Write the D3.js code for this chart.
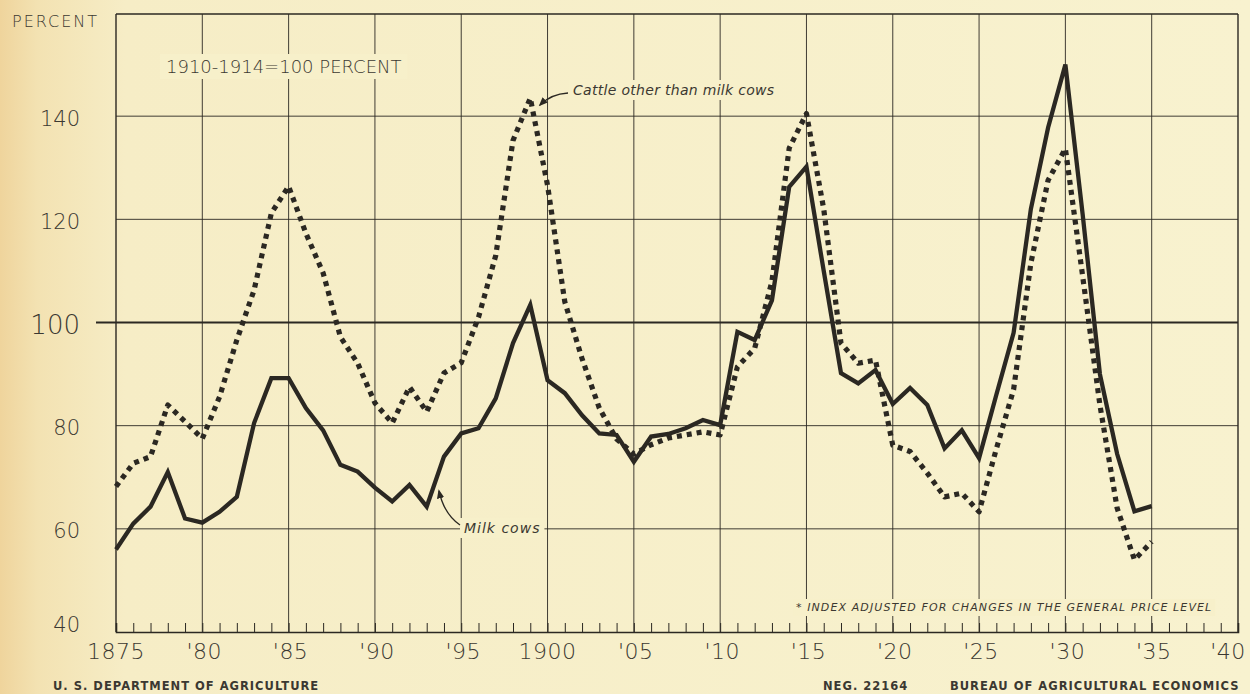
<!DOCTYPE html>
<html>
<head>
<meta charset="utf-8">
<script src="https://cdn.jsdelivr.net/npm/d3@7"></script>
<style>
  html, body { margin: 0; padding: 0; background: #f7f0ca; }
  svg { display: block; }
</style>
</head>
<body>
<div id="chart"></div>
<script>
// Index of prices received for cattle, 1910-1914 = 100
const years = d3.range(1875, 1936);

const milkCows = [
  56, 61, 64.3, 71, 62, 61.2, 63.3, 66.2, 80.5, 89.2,
  89.2, 83.4, 79.1, 72.4, 71.1, 68, 65.3, 68.5, 64.3, 74,
  78.5, 79.5, 85.3, 96, 103.4, 88.8, 86.3, 82, 78.5, 78.2,
  73, 77.9, 78.4, 79.5, 81.1, 80.1, 98.2, 96.6, 104.3, 126.3,
  130.2, 110, 90.2, 88.2, 90.8, 84.2, 87.3, 84, 75.6, 79.1,
  73.7, 86, 98, 122, 137.8, 150, 121, 90, 74.5, 63.4,
  64.4
];

const otherCattle = [
  68.2, 72.7, 74, 84, 80.8, 77.5, 85.6, 96.6, 106.3, 121.2,
  126.4, 117.3, 109.6, 97.2, 92.1, 84.4, 80.5, 87.5, 82.7, 90.2,
  92.2, 101, 113, 135.3, 143.5, 126.6, 104, 93, 83.4, 77.4,
  74.5, 76.3, 77.6, 78.2, 78.8, 78.2, 91.4, 95, 108, 133.8,
  140.5, 122, 96, 92.1, 92.7, 76.2, 75, 70.8, 66.2, 66.9,
  63.3, 75.5, 87, 111.5, 127.6, 133.7, 109, 84, 64, 54,
  57.5
];

const yTicks = [40, 60, 80, 100, 120, 140];
const xTicks = d3.range(1875, 1941, 5);
const xTickLabels = ["1875", "'80", "'85", "'90", "'95", "1900", "'05", "'10", "'15", "'20", "'25", "'30", "'35", "'40"];

const W = 1250, H = 694;
const margin = {top: 13, right: 12, bottom: 62, left: 116};
const ink = "#2b2822";
const textInk = "#3b3831";
const paper = "#f7f0ca";

const svg = d3.select("#chart").append("svg")
    .attr("width", W)
    .attr("height", H)
    .attr("viewBox", `0 0 ${W} ${H}`);

// Paper background with the warm edge on the left
const defs = svg.append("defs");
const grad = defs.append("linearGradient").attr("id", "paper")
    .attr("x1", "0%").attr("x2", "100%").attr("y1", "0%").attr("y2", "0%");
grad.append("stop").attr("offset", "0%").attr("stop-color", "#efd49c");
grad.append("stop").attr("offset", "3%").attr("stop-color", "#f3e2b2");
grad.append("stop").attr("offset", "10%").attr("stop-color", "#f6edc6");
grad.append("stop").attr("offset", "100%").attr("stop-color", "#f8f2cf");
svg.append("rect").attr("width", W).attr("height", H).attr("fill", "url(#paper)");

// Scales
const x = d3.scaleLinear().domain([1875, 1940]).range([margin.left, W - margin.right]);
const y = d3.scaleLinear().domain([40, 160]).range([H - margin.bottom, margin.top]);

const x0 = x(1875), x1 = x(1940), yTop = y(160) + 1, yBot = y(40);

const grid = svg.append("g").attr("stroke", ink).attr("fill", "none");

// Vertical grid lines every five years
grid.selectAll("line.v")
  .data(xTicks)
  .join("line")
    .attr("class", "v")
    .attr("x1", d => x(d)).attr("x2", d => x(d))
    .attr("y1", yTop).attr("y2", yBot)
    .attr("stroke-width", d => (d === 1875 || d === 1940) ? 1.4 : 0.9);

// Horizontal grid lines
grid.selectAll("line.h")
  .data(yTicks.filter(d => d !== 40 && d !== 100))
  .join("line")
    .attr("class", "h")
    .attr("x1", x0).attr("x2", x1)
    .attr("y1", d => y(d)).attr("y2", d => y(d))
    .attr("stroke-width", 0.9);

// Frame top and heavy 100 line
grid.append("line")
    .attr("x1", x0).attr("x2", x1).attr("y1", yTop).attr("y2", yTop)
    .attr("stroke-width", 1.3);
grid.append("line")
    .attr("x1", x0 - 20).attr("x2", x1).attr("y1", y(100)).attr("y2", y(100))
    .attr("stroke-width", 2.2);

// Bottom axis with yearly ticks
const xAxis = d3.axisBottom(x)
    .tickValues(d3.range(1875, 1941))
    .tickSize(-9)
    .tickFormat("");
const axisG = svg.append("g")
    .attr("transform", `translate(0,${yBot})`)
    .call(xAxis);
axisG.select(".domain").attr("stroke", ink).attr("stroke-width", 1.6);
axisG.selectAll(".tick line").attr("stroke", ink).attr("stroke-width", 1);

// X tick labels
svg.append("g").selectAll("text")
  .data(xTicks)
  .join("text")
    .attr("x", (d, i) => {
      if (d === 1940) return x(d) - 10;
      return x(d) + (i === 0 || i === 5 ? 0 : 2);
    })
    .attr("y", yBot + 27)
    .attr("text-anchor", "middle")
    .attr("font-family", "DejaVu Sans")
    .attr("font-weight", 200)
    .attr("font-size", 22)
    .attr("letter-spacing", 0.5)
    .attr("fill", textInk)
    .text((d, i) => xTickLabels[i]);

// Y tick labels
svg.append("g").selectAll("text")
  .data(yTicks)
  .join("text")
    .attr("x", 80)
    .attr("y", d => d === 40 ? y(d) - 7 : y(d) + 2)
    .attr("dy", "0.35em")
    .attr("text-anchor", "end")
    .attr("font-family", "DejaVu Sans")
    .attr("font-weight", d => d === 100 ? 300 : 200)
    .attr("font-size", d => d === 100 ? 26 : 21)
    .attr("fill", textInk)
    .text(d => d);

svg.append("text")
    .attr("x", 12).attr("y", 27)
    .attr("font-family", "DejaVu Sans")
    .attr("font-weight", 200)
    .attr("font-size", 16)
    .attr("letter-spacing", 2)
    .attr("fill", textInk)
    .text("PERCENT");

// Labels that sit on a paper patch so the grid stops around them
function patchLabel(tx, ty, str, opts, pad) {
  const t = svg.append("text")
      .attr("x", tx).attr("y", ty)
      .attr("font-family", opts.family || "DejaVu Sans")
      .attr("font-size", opts.size)
      .attr("font-weight", opts.weight || 300)
      .attr("font-style", opts.style || "normal")
      .attr("letter-spacing", opts.spacing || 0)
      .attr("fill", textInk)
      .text(str);
  const b = t.node().getBBox();
  svg.insert("rect", () => t.node())
      .attr("x", b.x - pad).attr("y", b.y - 2)
      .attr("width", b.width + 2 * pad).attr("height", b.height + 4)
      .attr("fill", paper);
  return t;
}

patchLabel(166, 73, "1910-1914=100 PERCENT", {size: 18, weight: 200, spacing: 0}, 6);
patchLabel(573, 95, "Cattle other than milk cows", {size: 14, weight: 300, style: "italic", spacing: 0.3}, 4);
patchLabel(464, 533, "Milk cows", {size: 14, weight: 300, style: "italic", spacing: 1}, 4);
patchLabel(796, 611, "* INDEX ADJUSTED FOR CHANGES IN THE GENERAL PRICE LEVEL",
  {size: 11, weight: 300, style: "italic", spacing: 1.1}, 3);

// Data lines
const line = d3.line()
    .x((d, i) => x(years[i]))
    .y(d => y(d));

svg.append("path")
    .datum(otherCattle)
    .attr("fill", "none")
    .attr("stroke", ink)
    .attr("stroke-width", 5.2)
    .attr("stroke-dasharray", "5,5")
    .attr("stroke-linejoin", "round")
    .attr("d", line);

svg.append("path")
    .datum(milkCows)
    .attr("fill", "none")
    .attr("stroke", ink)
    .attr("stroke-width", 4.3)
    .attr("stroke-linejoin", "miter")
    .attr("d", line);

// Leader lines with small arrowheads
defs.append("marker")
    .attr("id", "arrow")
    .attr("viewBox", "0 0 10 10")
    .attr("refX", 8).attr("refY", 5)
    .attr("markerWidth", 7).attr("markerHeight", 7)
    .attr("orient", "auto")
  .append("path")
    .attr("d", "M0,1 L10,5 L0,9 Z")
    .attr("fill", ink);

svg.append("path")
    .attr("d", "M568,93 Q551,94 540,105")
    .attr("fill", "none").attr("stroke", ink).attr("stroke-width", 1.3)
    .attr("marker-end", "url(#arrow)");

svg.append("path")
    .attr("d", "M460,525 Q444,514 439,491")
    .attr("fill", "none").attr("stroke", ink).attr("stroke-width", 1.3)
    .attr("marker-end", "url(#arrow)");

// Footer credits
const footer = [
  {x: 53, text: "U. S. DEPARTMENT OF AGRICULTURE"},
  {x: 823, text: "NEG. 22164"},
  {x: 950, text: "BUREAU OF AGRICULTURAL ECONOMICS"}
];
svg.append("g").selectAll("text")
  .data(footer)
  .join("text")
    .attr("x", d => d.x)
    .attr("y", 690)
    .attr("font-family", "DejaVu Sans")
    .attr("font-weight", "bold")
    .attr("font-size", 11.5)
    .attr("letter-spacing", 1)
    .attr("fill", textInk)
    .text(d => d.text);
</script>
</body>
</html>
